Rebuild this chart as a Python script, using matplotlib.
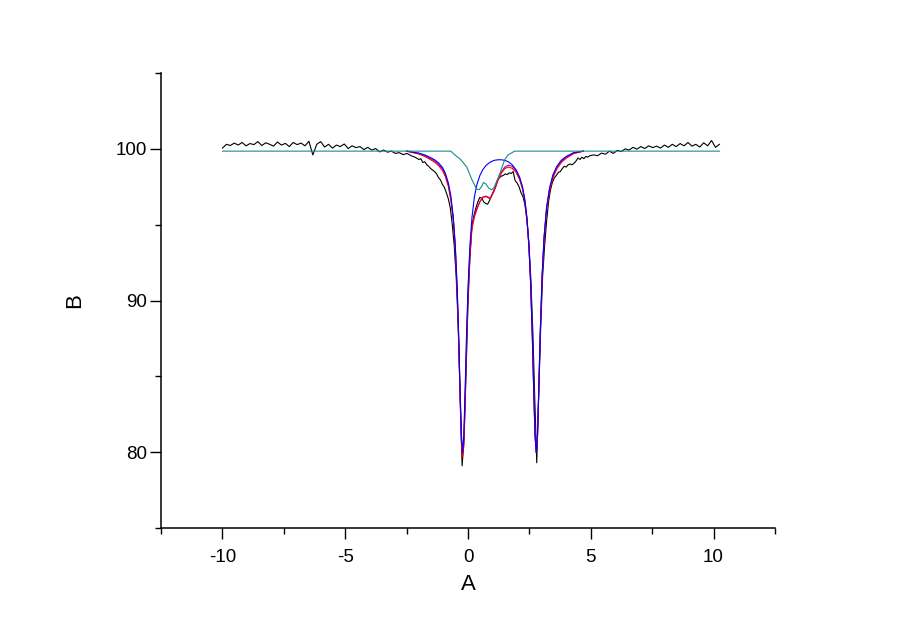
import matplotlib
matplotlib.use("Agg")
import matplotlib.pyplot as plt
from matplotlib.ticker import MultipleLocator

plt.rcParams['font.family'] = ['Liberation Sans', 'DejaVu Sans']
plt.rcParams['axes.unicode_minus'] = False

# measured spectrum (black)
black_x = [-10.00, -9.84, -9.68, -9.52, -9.36, -9.20, -9.04, -8.88, -8.72, -8.56,
           -8.40, -8.24, -8.08, -7.92, -7.76, -7.60, -7.44, -7.28, -7.12, -6.96,
           -6.80, -6.64, -6.48, -6.32, -6.16, -6.00, -5.84, -5.68, -5.52, -5.36,
           -5.20, -5.04, -4.88, -4.72, -4.56, -4.40, -4.24, -4.08, -3.92, -3.76,
           -3.60, -3.44, -3.28, -3.12, -2.96, -2.80, -2.64, -2.48, -2.32, -2.16,
           -2.00,
           -1.92, -1.84, -1.76, -1.68, -1.60, -1.52, -1.44, -1.36, -1.28, -1.20,
           -1.12, -1.04, -0.96, -0.88, -0.80, -0.72, -0.64, -0.56, -0.48, -0.40,
           -0.32, -0.24, -0.16, -0.08, 0.00, 0.08, 0.16, 0.24, 0.32, 0.40,
           0.48, 0.56, 0.64, 0.72, 0.80, 0.88, 0.96, 1.04, 1.12, 1.20,
           1.28, 1.36, 1.44, 1.52, 1.60, 1.68, 1.76, 1.84, 1.92, 2.00,
           2.08, 2.16, 2.24, 2.32, 2.40, 2.48, 2.56, 2.64, 2.72, 2.80,
           2.88, 2.96, 3.04, 3.12, 3.20, 3.28, 3.36, 3.44, 3.52, 3.60,
           3.68, 3.76, 3.84, 3.92, 4.00, 4.08, 4.16, 4.24, 4.32, 4.40,
           4.48, 4.56, 4.64, 4.72, 4.80, 4.88, 4.96,
           5.12, 5.28, 5.44, 5.60, 5.76, 5.92, 6.08, 6.24, 6.40, 6.56,
           6.72, 6.88, 7.04, 7.20, 7.36, 7.52, 7.68, 7.84, 8.00, 8.16,
           8.32, 8.48, 8.64, 8.80, 8.96, 9.12, 9.28, 9.44, 9.60, 9.76,
           9.92, 10.08, 10.24]
black_y = [100.05, 100.30, 100.22, 100.38, 100.25, 100.42, 100.20, 100.35, 100.28, 100.48,
           100.22, 100.40, 100.30, 100.18, 100.45, 100.25, 100.36, 100.15, 100.42, 100.28,
           100.38, 100.20, 100.50, 99.60, 100.30, 100.48, 100.12, 100.30, 100.05, 100.25,
           100.15, 100.32, 100.02, 100.20, 100.08, 100.15, 99.95, 100.10, 99.92, 100.02,
           99.80, 99.92, 99.78, 99.85, 99.70, 99.75, 99.62, 99.70, 99.55, 99.45,
           99.30,
           99.35, 99.10, 99.15, 98.95, 98.85, 98.70, 98.60, 98.50, 98.35, 98.10,
           97.95, 97.65, 97.45, 97.10, 96.70, 96.10, 95.00, 93.60, 91.50, 88.40,
           83.80, 79.10, 80.90, 85.20, 89.80, 92.90, 94.90, 95.60, 96.10, 96.50,
           96.80, 96.75, 96.50, 96.40, 96.35, 96.60, 96.90, 97.20, 97.50, 97.95,
           98.10, 98.20, 98.25, 98.35, 98.30, 98.42, 98.38, 98.50, 97.90, 97.75,
           97.50, 97.10, 96.85, 96.30, 95.30, 93.80, 91.40, 88.00, 83.50, 79.30,
           83.80, 88.20, 91.60, 93.60, 95.20, 96.50, 97.30, 97.80, 98.10, 98.25,
           98.45, 98.50, 98.70, 98.85, 98.80, 98.95, 99.00, 98.95, 99.05, 99.20,
           99.40, 99.30, 99.45, 99.35, 99.50, 99.45, 99.55,
           99.60, 99.55, 99.72, 99.65, 99.85, 99.70, 99.90, 99.82, 100.00, 99.92,
           100.10, 99.98, 100.15, 100.02, 100.20, 100.08, 100.18, 100.05, 100.25, 100.10,
           100.30, 100.15, 100.35, 100.20, 100.42, 100.18, 100.30, 100.12, 100.40, 100.20,
           100.55, 100.10, 100.30]

# fitted curves, shared velocity grid (they sit on the teal baseline outside it)
fit_x = [-2.5, -2.0, -1.76, -1.52, -1.36, -1.2,
         -1.04, -0.92, -0.8, -0.7, -0.6, -0.52, -0.44, -0.38, -0.32, -0.27,
         -0.22, -0.17, -0.12, -0.06, 0.0, 0.08, 0.16, 0.26, 0.36, 0.48,
         0.6, 0.74, 0.9, 1.06, 1.22, 1.36, 1.5, 1.64, 1.8, 1.96,
         2.1, 2.22, 2.32, 2.4, 2.48, 2.55, 2.62, 2.68, 2.73, 2.78,
         2.83, 2.88, 2.94, 3.02, 3.1, 3.2, 3.32, 3.46, 3.62, 3.8,
         4.0, 4.3, 4.7]
blue_y = [99.85, 99.72, 99.60, 99.42, 99.28, 99.08,
          98.78, 98.38, 97.75, 96.90, 95.51, 93.72, 90.85, 87.74, 83.97, 81.17,
          80.00, 81.16, 83.96, 87.70, 90.81, 93.67, 95.46, 96.82, 97.63, 98.23,
          98.62, 98.92, 99.12, 99.24, 99.28, 99.28, 99.24, 99.15, 98.95, 98.62,
          98.15, 97.50, 96.60, 95.46, 93.67, 91.24, 87.70, 83.94, 81.14, 79.98,
          81.14, 83.95, 87.72, 91.68, 94.23, 96.14, 97.41, 98.30, 98.85, 99.25,
          99.50, 99.75, 99.85]
red_y = [99.85, 99.66, 99.50, 99.28, 99.12, 98.90,
         98.58, 98.16, 97.52, 96.62, 95.30, 93.45, 90.45, 87.24, 83.42, 80.60,
         79.70, 80.40, 83.10, 86.80, 90.20, 93.00, 94.70, 95.50, 96.00, 96.50,
         96.80, 96.85, 96.70, 97.20, 97.90, 98.40, 98.70, 98.80, 98.72, 98.45,
         97.98, 97.35, 96.48, 95.36, 93.58, 91.16, 87.64, 83.90, 81.12, 79.98,
         81.12, 83.92, 87.66, 91.58, 94.10, 95.98, 97.24, 98.10, 98.68, 99.10,
         99.38, 99.68, 99.85]
purple_y = [99.85, 99.69, 99.55, 99.35, 99.20, 98.99,
            98.68, 98.27, 97.64, 96.76, 95.40, 93.58, 90.65, 87.49, 83.70, 80.88,
            79.85, 80.78, 83.53, 87.25, 90.50, 93.30, 94.90, 95.60, 96.05, 96.52,
            96.82, 96.88, 96.75, 97.25, 97.95, 98.48, 98.80, 98.92, 98.85, 98.55,
            98.06, 97.42, 96.54, 95.41, 93.62, 91.20, 87.67, 83.92, 81.13, 79.98,
            81.13, 83.93, 87.69, 91.63, 94.16, 96.06, 97.32, 98.20, 98.77, 99.18,
            99.44, 99.72, 99.85]

# second (weak) doublet
teal_x = [-10.0, -0.7, -0.55, -0.3, -0.05, 0.15, 0.35, 0.45, 0.55, 0.63,
          0.72, 0.85, 0.97, 1.06, 1.18, 1.3, 1.4, 1.5, 1.63, 1.9, 10.24]
teal_y = [99.85, 99.85, 99.62, 99.30, 98.80, 98.00, 97.35, 97.30, 97.50, 97.78,
          97.70, 97.40, 97.30, 97.45, 97.90, 98.40, 98.85, 99.30, 99.60, 99.85, 99.85]

fig = plt.figure(figsize=(9, 6.35), dpi=100)
ax = fig.add_axes([0.179, 0.1685, 0.682, 0.7165])

lw = 0.8
ax.plot(black_x, black_y, color='black', lw=lw)
ax.plot(fit_x, purple_y, color='#9a00c8', lw=lw)
ax.plot(fit_x, red_y, color='red', lw=lw)
ax.plot(fit_x, blue_y, color='blue', lw=lw)
ax.plot(teal_x, teal_y, color='#1a8a8a', lw=lw)

ax.set_xlim(-12.5, 12.5)
ax.set_ylim(75, 105)
ax.xaxis.set_major_locator(MultipleLocator(5))
ax.xaxis.set_minor_locator(MultipleLocator(2.5))
ax.yaxis.set_major_locator(MultipleLocator(10))
ax.yaxis.set_minor_locator(MultipleLocator(5))

for s in ['top', 'right']:
    ax.spines[s].set_visible(False)
for s in ['left', 'bottom']:
    ax.spines[s].set_linewidth(1.1)

ax.tick_params(axis='both', which='major', direction='out', length=8, width=1.0, labelsize=13.5)
ax.tick_params(axis='both', which='minor', direction='out', length=4, width=1.0)
ax.tick_params(axis='x', which='major', pad=7)
ax.tick_params(axis='y', which='major', pad=2)

ax.set_xlabel('A', fontsize=16, labelpad=6)
ax.set_ylabel('B', fontsize=16, labelpad=22)

fig.savefig('out.png', dpi=100)
